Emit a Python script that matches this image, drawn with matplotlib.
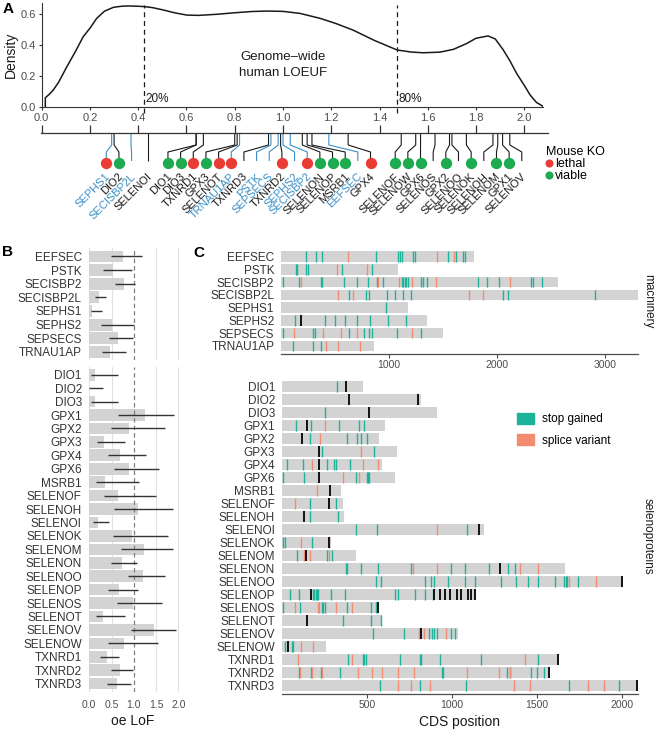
import matplotlib
matplotlib.use("Agg")
import matplotlib.pyplot as plt
from matplotlib.lines import Line2D
from matplotlib.patches import Patch
import numpy as np

plt.rcParams['font.family'] = ['Liberation Sans', 'DejaVu Sans']

# ---------------- data ----------------
MACHINERY = ['EEFSEC', 'PSTK', 'SECISBP2', 'SECISBP2L', 'SEPHS1', 'SEPHS2', 'SEPSECS', 'TRNAU1AP']
SELENOPROTEINS = ['DIO1', 'DIO2', 'DIO3', 'GPX1', 'GPX2', 'GPX3', 'GPX4', 'GPX6', 'MSRB1',
                  'SELENOF', 'SELENOH', 'SELENOI', 'SELENOK', 'SELENOM', 'SELENON', 'SELENOO',
                  'SELENOP', 'SELENOS', 'SELENOT', 'SELENOV', 'SELENOW', 'TXNRD1', 'TXNRD2', 'TXNRD3']

OE_MACH = [0.75, 0.54, 0.78, 0.22, 0.05, 0.50, 0.65, 0.47]
LO_MACH = [0.49, 0.31, 0.58, 0.13, 0.03, 0.26, 0.44, 0.28]
HI_MACH = [1.19, 0.95, 1.03, 0.37, 0.29, 1.00, 0.98, 0.82]   # LOEUF

OE_SEL = [0.13, 0.00, 0.13, 1.25, 0.90, 0.34, 0.70, 0.90, 0.35, 0.65, 1.10, 0.19,
          0.97, 1.23, 0.73, 1.21, 0.67, 0.99, 0.31, 1.46, 0.79, 0.39, 0.69, 0.62]
LO_SEL = [0.03, 0.00, 0.03, 0.65, 0.49, 0.17, 0.41, 0.56, 0.14, 0.33, 0.56, 0.09,
          0.53, 0.71, 0.49, 0.88, 0.43, 0.62, 0.14, 0.93, 0.43, 0.24, 0.48, 0.40]
HI_SEL = [0.64, 0.30, 0.64, 1.91, 1.69, 0.80, 1.27, 1.57, 1.12, 1.49, 1.87, 0.44,
          1.76, 1.89, 1.08, 1.70, 1.10, 1.63, 0.81, 1.94, 1.55, 0.67, 0.99, 0.94]

KO_MACH = [None, None, 'lethal', None, 'lethal', None, None, 'lethal']
KO_SEL = ['viable', 'viable', 'viable', 'viable', 'viable', 'viable', 'lethal', 'viable',
          'viable', 'viable', None, None, 'viable', 'viable', 'viable', None, 'viable', None,
          'lethal', None, 'viable', 'lethal', 'lethal', None]

# genome-wide LOEUF density
LOEUF_GRID = [0.015, 0.015, 0.03, 0.048, 0.07, 0.104, 0.14, 0.172, 0.20, 0.228, 0.26, 0.297,
              0.33, 0.36, 0.40, 0.425, 0.46, 0.504, 0.55, 0.601, 0.65, 0.725, 0.80, 0.87,
              0.932, 1.00, 1.07, 1.153, 1.22, 1.29, 1.38, 1.473, 1.53, 1.58, 1.65, 1.706,
              1.76, 1.80, 1.85, 1.88, 1.913, 1.94, 1.968, 2.00, 2.024, 2.05, 2.076]
DENSITY = [0.0, 0.06, 0.08, 0.11, 0.16, 0.26, 0.36, 0.455, 0.51, 0.574, 0.62, 0.645,
           0.652, 0.654, 0.652, 0.65, 0.643, 0.628, 0.61, 0.595, 0.593, 0.60, 0.61, 0.618,
           0.621, 0.619, 0.606, 0.574, 0.54, 0.498, 0.43, 0.369, 0.356, 0.351, 0.355, 0.373,
           0.41, 0.445, 0.46, 0.44, 0.369, 0.30, 0.218, 0.14, 0.078, 0.03, 0.006]
PCTL = [0.425, 1.473]
PCTL_LABELS = ['20%', '80%']

# CDS lengths and variant positions
CDS_LEN = {
    'EEFSEC': 1790, 'PSTK': 1080, 'SECISBP2': 2562, 'SECISBP2L': 3305, 'SEPHS1': 1179,
    'SEPHS2': 1349, 'SEPSECS': 1503, 'TRNAU1AP': 864,
    'DIO1': 480, 'DIO2': 818, 'DIO3': 914, 'GPX1': 608, 'GPX2': 569, 'GPX3': 676, 'GPX4': 588,
    'GPX6': 663, 'MSRB1': 347, 'SELENOF': 359, 'SELENOH': 365, 'SELENOI': 1186, 'SELENOK': 288,
    'SELENOM': 435, 'SELENON': 1666, 'SELENOO': 2005, 'SELENOP': 1141, 'SELENOS': 569,
    'SELENOT': 588, 'SELENOV': 1035, 'SELENOW': 261, 'TXNRD1': 1627, 'TXNRD2': 1574, 'TXNRD3': 2093}

STOP_GAINED = {
    'EEFSEC': [228, 324, 377, 880, 1080, 1102, 1117, 1225, 1240, 1544, 1621, 1689, 1701],
    'PSTK': [139, 148, 228, 247, 562, 846],
    'SECISBP2': [15, 167, 367, 383, 586, 707, 802, 892, 948, 1117, 1130, 1145, 1160, 1179, 1296,
                 1318, 1349, 1821, 1905, 2019, 2312, 2337, 2420],
    'SECISBP2L': [630, 784, 818, 978, 1056, 1133, 1204, 2053, 2105, 2908],
    'SEPHS1': [969],
    'SEPHS2': [130, 407, 500, 593, 701, 824, 994, 1157],
    'SEPSECS': [15, 299, 315, 630, 772, 818, 840, 1071, 1293],
    'TRNAU1AP': [114, 293, 367],
    'DIO1': [324], 'DIO3': [255],
    'GPX1': [84, 173, 337, 455, 486],
    'GPX2': [167, 386, 441, 465, 500],
    'GPX3': [239, 545],
    'GPX4': [29, 127, 269, 310, 320, 402],
    'GPX6': [10, 133, 435, 500, 506, 514],
    'SELENOF': [167, 318],
    'SELENOH': [167, 333],
    'SELENOI': [435, 559, 1088],
    'SELENOK': [10, 20, 180],
    'SELENOM': [92, 265, 294],
    'SELENON': [378, 386, 465, 565, 759, 996, 1078, 1215, 1329, 1372],
    'SELENOO': [555, 582, 839, 878, 892, 976, 1078, 1137, 1288, 1378, 1447, 1503, 1607, 1660,
                1668, 1676, 1739],
    'SELENOP': [49, 102, 186, 192, 200, 208, 216, 290, 373, 663, 686, 784, 839, 890],
    'SELENOS': [10, 108, 235, 245, 255, 386, 525, 553],
    'SELENOT': [359, 524, 582],
    'SELENOV': [539, 720, 863, 880, 895, 910, 994, 1019],
    'SELENOW': [20, 59, 65],
    'TXNRD1': [392, 476, 486, 496, 696, 810, 820, 927, 1172, 1503],
    'TXNRD2': [104, 173, 231, 343, 941, 950, 1323, 1339, 1464, 1499, 1539],
    'TXNRD3': [575, 814, 1084, 1686, 1984]}

SPLICE = {
    'EEFSEC': [623, 1447, 1602],
    'PSTK': [515, 793],
    'SECISBP2': [185, 901, 1093, 1210, 1434, 2121],
    'SECISBP2L': [531, 670, 1741, 1868],
    'SEPSECS': [120, 392, 552, 707, 1210],
    'TRNAU1AP': [417, 531, 731],
    'GPX1': [255], 'GPX2': [225], 'GPX3': [465],
    'GPX4': [180, 476, 563],
    'GPX6': [359, 457],
    'MSRB1': [206], 'SELENOF': [78],
    'SELENOI': [912],
    'SELENOK': [114, 280],
    'SELENOM': [131, 167, 280],
    'SELENON': [771, 911, 1397, 1503],
    'SELENOO': [1688, 1847],
    'SELENOS': [78, 212, 220, 320, 412],
    'SELENOV': [808, 833, 964],
    'SELENOW': [112, 182],
    'TXNRD1': [98, 412, 1431],
    'TXNRD2': [108, 180, 239, 451, 529, 588, 682, 778, 1088, 1278, 1343],
    'TXNRD3': [682, 759, 872, 1362, 1456, 1797, 1895]}

SEC_CODON = {
    'SEPHS2': [185], 'DIO1': [376], 'DIO2': [398, 800], 'DIO3': [510], 'GPX1': [147],
    'GPX2': [118], 'GPX3': [220], 'GPX4': [220], 'GPX6': [220], 'MSRB1': [284],
    'SELENOF': [278], 'SELENOH': [130], 'SELENOI': [1161], 'SELENOK': [275], 'SELENOM': [141],
    'SELENON': [1280], 'SELENOO': [2000],
    'SELENOP': [175, 896, 931, 960, 990, 1029, 1054, 1097, 1111, 1133],
    'SELENOS': [563], 'SELENOT': [147], 'SELENOV': [821], 'SELENOW': [37],
    'TXNRD1': [1623], 'TXNRD2': [1568], 'TXNRD3': [2088]}

# ---------------- style ----------------
TEAL = '#1DB39B'
SALMON = '#F28B6F'
BAR_GRAY = '#D3D3D3'
RED = '#EB3B35'
GREEN = '#1EAA4E'
BLUE = '#3A8FC6'
DARK = '#1A1A1A'
TICK_GRAY = '#4D4D4D'
LAB_GRAY = '#333333'

W, H = 654, 729
fig = plt.figure(figsize=(W / 100, H / 100), dpi=100)


def add_ax(l, t, r, b):
    return fig.add_axes([l / W, 1 - b / H, (r - l) / W, (b - t) / H])


# ---------------- panel A: density ----------------
A0, PXU = 41.7, 241.3          # pixel of LOEUF 0 and pixels per unit
DY0, DPX = 107.0, 154.5        # pixel of density 0 and pixels per unit


def to_loeuf(px):
    return (px - A0) / PXU


axd = add_ax(A0, 3, 543, DY0)
axd.plot(LOEUF_GRID, DENSITY, color=DARK, lw=1.1, solid_joinstyle='round')
axd.set_xlim(0, to_loeuf(543))
axd.set_ylim(0, (DY0 - 3) / DPX)
for s in ['top', 'right']:
    axd.spines[s].set_visible(False)
for s in ['left', 'bottom']:
    axd.spines[s].set_color('#333333')
    axd.spines[s].set_linewidth(0.8)
axd.set_xticks(np.round(np.arange(0, 2.01, 0.2), 1))
axd.set_xticklabels([f'{v:.1f}' for v in np.arange(0, 2.01, 0.2)])
axd.set_yticks([0, 0.2, 0.4, 0.6])
axd.set_yticklabels(['0.0', '0.2', '0.4', '0.6'])
axd.tick_params(labelsize=8, length=2.5, width=0.8, color='#333333', labelcolor=TICK_GRAY, pad=1.5)
axd.set_ylabel('Density', fontsize=10, labelpad=2, color=DARK)
axd.vlines(PCTL, ymin=(DY0 - 113) / DPX, ymax=(DY0 - 5) / DPX, colors=DARK, lw=0.9,
           linestyles=(0, (4, 3)), clip_on=False)
for p, lab in zip(PCTL, PCTL_LABELS):
    axd.text(p + 1.5 / PXU, (DY0 - 98.5) / DPX, lab, fontsize=8.5, color=DARK,
             ha='left', va='center')
axd.text(1.0, (DY0 - 65) / DPX, 'Genome–wide\nhuman LOEUF', fontsize=9.5, color=DARK,
         ha='center', va='center', linespacing=1.55)

# ---------------- panel A: rug with genes ----------------
axr = add_ax(40.7, 118, 548, 240)
axr.set_xlim(to_loeuf(40.7), to_loeuf(548))
axr.set_ylim(240, 118)
axr.patch.set_alpha(0)
for s in ['top', 'right', 'left']:
    axr.spines[s].set_visible(False)
axr.spines['bottom'].set_position(('data', 133.3))
axr.spines['bottom'].set_color('#333333')
axr.spines['bottom'].set_linewidth(0.9)
axr.set_xticks(np.arange(0, 2.01, 0.2))
axr.tick_params(axis='x', direction='in', length=6, width=0.9, color='#333333',
                labelbottom=False)
axr.set_yticks([])

genes = MACHINERY + SELENOPROTEINS
loeuf = HI_MACH + HI_SEL
ko = KO_MACH + KO_SEL
is_mach = [True] * len(MACHINERY) + [False] * len(SELENOPROTEINS)
order = sorted(range(len(genes)), key=lambda i: loeuf[i])
anchors_px = [A0 + loeuf[i] * PXU for i in order]

# simple 1-D label repulsion (least-squares with minimum spacing)
SPACING = 12.66
b = [a - k * SPACING for k, a in enumerate(anchors_px)]
blocks = []
for v in b:
    blocks.append([v, 1])
    while len(blocks) > 1 and blocks[-2][0] / blocks[-2][1] > blocks[-1][0] / blocks[-1][1]:
        s_, c_ = blocks.pop()
        blocks[-1][0] += s_
        blocks[-1][1] += c_
fit = []
for s_, c_ in blocks:
    fit += [s_ / c_] * c_
label_px = [f + k * SPACING for k, f in enumerate(fit)]

for k, i in enumerate(order):
    col = BLUE if is_mach[i] else DARK
    ax_ = to_loeuf(anchors_px[k])
    lx_ = to_loeuf(label_px[k])
    axr.plot([ax_, ax_, lx_, lx_], [133.3, 145, 152, 161], color=col, lw=0.8,
             solid_capstyle='butt', clip_on=False)
    if ko[i] is not None:
        axr.scatter([lx_], [162.7], s=66, color=RED if ko[i] == 'lethal' else GREEN,
                    linewidths=0, zorder=3, clip_on=False)
    axr.text(lx_ + 2.5 / PXU, 175, genes[i], rotation=45, rotation_mode='anchor',
             ha='right', va='center', fontsize=8, color=col)

ko_handles = [Line2D([], [], marker='o', ls='', color=RED, markersize=4.8, label='lethal'),
              Line2D([], [], marker='o', ls='', color=GREEN, markersize=4.8, label='viable')]
leg = axr.legend(handles=ko_handles, title='Mouse KO', loc='upper left',
                 bbox_to_anchor=(546 / W, 1 - 146 / H), bbox_transform=fig.transFigure,
                 frameon=False, fontsize=9, title_fontsize=9, handlelength=0.5,
                 handletextpad=0.2, labelspacing=0.0, borderpad=0, borderaxespad=0,
                 alignment='left')

# ---------------- panel B ----------------
BX0, BPX = 89.3, 44.5


def panel_b(top, bottom, names, oe, lo, hi, show_x):
    ax = add_ax(BX0 - 0.08 * BPX, top, BX0 + 2.02 * BPX, bottom)
    y = np.arange(len(names))
    for g in [0, 0.5, 1.5, 2.0]:
        ax.axvline(g, color='#E2E2E2', lw=0.8, zorder=0)
    ax.barh(y, oe, height=0.87, color=BAR_GRAY, zorder=1)
    ax.axvline(1.0, color='#7F7F7F', lw=0.9, ls=(0, (3.5, 2.5)), zorder=2)
    ax.hlines(y, lo, hi, color='#333333', lw=1.0, zorder=3)
    ax.set_xlim(-0.08, 2.02)
    ax.set_ylim(len(names) - 0.4, -0.6)
    ax.set_yticks(y)
    ax.set_yticklabels(names, fontsize=8.5, color=LAB_GRAY)
    for s in ax.spines.values():
        s.set_visible(False)
    ax.tick_params(length=0, pad=2.8)
    ax.set_xticks([0, 0.5, 1.0, 1.5, 2.0])
    if show_x:
        ax.set_xticklabels(['0.0', '0.5', '1.0', '1.5', '2.0'], fontsize=7.5, color=TICK_GRAY)
        ax.tick_params(axis='x', pad=6)
        ax.set_xlabel('oe LoF', fontsize=10, color=DARK, labelpad=3)
    else:
        ax.set_xticklabels([])
    return ax


panel_b(248.3, 360, MACHINERY, OE_MACH, LO_MACH, HI_MACH, False)
panel_b(366.7, 691.7, SELENOPROTEINS, OE_SEL, LO_SEL, HI_SEL, True)

# ---------------- panel C ----------------


def panel_c(left, top, right, bottom, names, ticks, strip, xlabel):
    ax = add_ax(left, top, right, bottom)
    y = np.arange(len(names))
    lens = [CDS_LEN[n] for n in names]
    ax.barh(y, lens, height=0.84, color=BAR_GRAY, zorder=1)
    for i, n in enumerate(names):
        ax.vlines(STOP_GAINED.get(n, []), i - 0.42, i + 0.42, color=TEAL, lw=1.0, zorder=2)
        ax.vlines(SPLICE.get(n, []), i - 0.42, i + 0.42, color=SALMON, lw=1.0, zorder=2)
        ax.vlines(SEC_CODON.get(n, []), i - 0.42, i + 0.42, color='#111111', lw=1.4, zorder=3)
    ax.set_xlim(0, max(lens))
    ax.set_ylim(len(names) - 0.4, -0.6)
    ax.set_yticks(y)
    ax.set_yticklabels(names, fontsize=8.5, color=LAB_GRAY)
    ax.tick_params(axis='y', length=0, pad=4.8)
    for s in ['top', 'right', 'left']:
        ax.spines[s].set_visible(False)
    ax.spines['bottom'].set_color('#4D4D4D')
    ax.spines['bottom'].set_linewidth(0.9)
    ax.set_xticks(ticks)
    ax.set_xticklabels([str(t) for t in ticks], fontsize=7.5, color=TICK_GRAY)
    ax.tick_params(axis='x', length=3, width=0.8, color='#4D4D4D', pad=2)
    ax.text(1 + 10 / (right - left), 0.5, strip, transform=ax.transAxes, rotation=270,
            ha='center', va='center', fontsize=8.5, color=DARK)
    if xlabel:
        ax.set_xlabel(xlabel, fontsize=10, color=DARK, labelpad=3)
    return ax


panel_c(281, 249, 638, 353.5, MACHINERY, [1000, 2000, 3000], 'machinery', None)
axc2 = panel_c(281.7, 379, 638, 693.5, SELENOPROTEINS, [500, 1000, 1500, 2000],
               'selenoproteins', 'CDS position')
axc2.legend(handles=[Patch(color=TEAL, label='stop gained'),
                     Patch(color=SALMON, label='splice variant')],
            loc='upper left', bbox_to_anchor=(517 / W, 1 - 413 / H),
            bbox_transform=fig.transFigure, frameon=False, fontsize=8.5,
            handlelength=1.4, handleheight=1.0, handletextpad=0.75, labelspacing=0.75,
            borderpad=0, borderaxespad=0)

# panel letters
fig.text(3 / W, 1 - 9 / H, 'A', fontsize=11, fontweight='bold', ha='left', va='center')
fig.text(2 / W, 1 - 252 / H, 'B', fontsize=11, fontweight='bold', ha='left', va='center')
fig.text(193 / W, 1 - 253 / H, 'C', fontsize=11, fontweight='bold', ha='left', va='center')

fig.savefig('out.png', dpi=100)
